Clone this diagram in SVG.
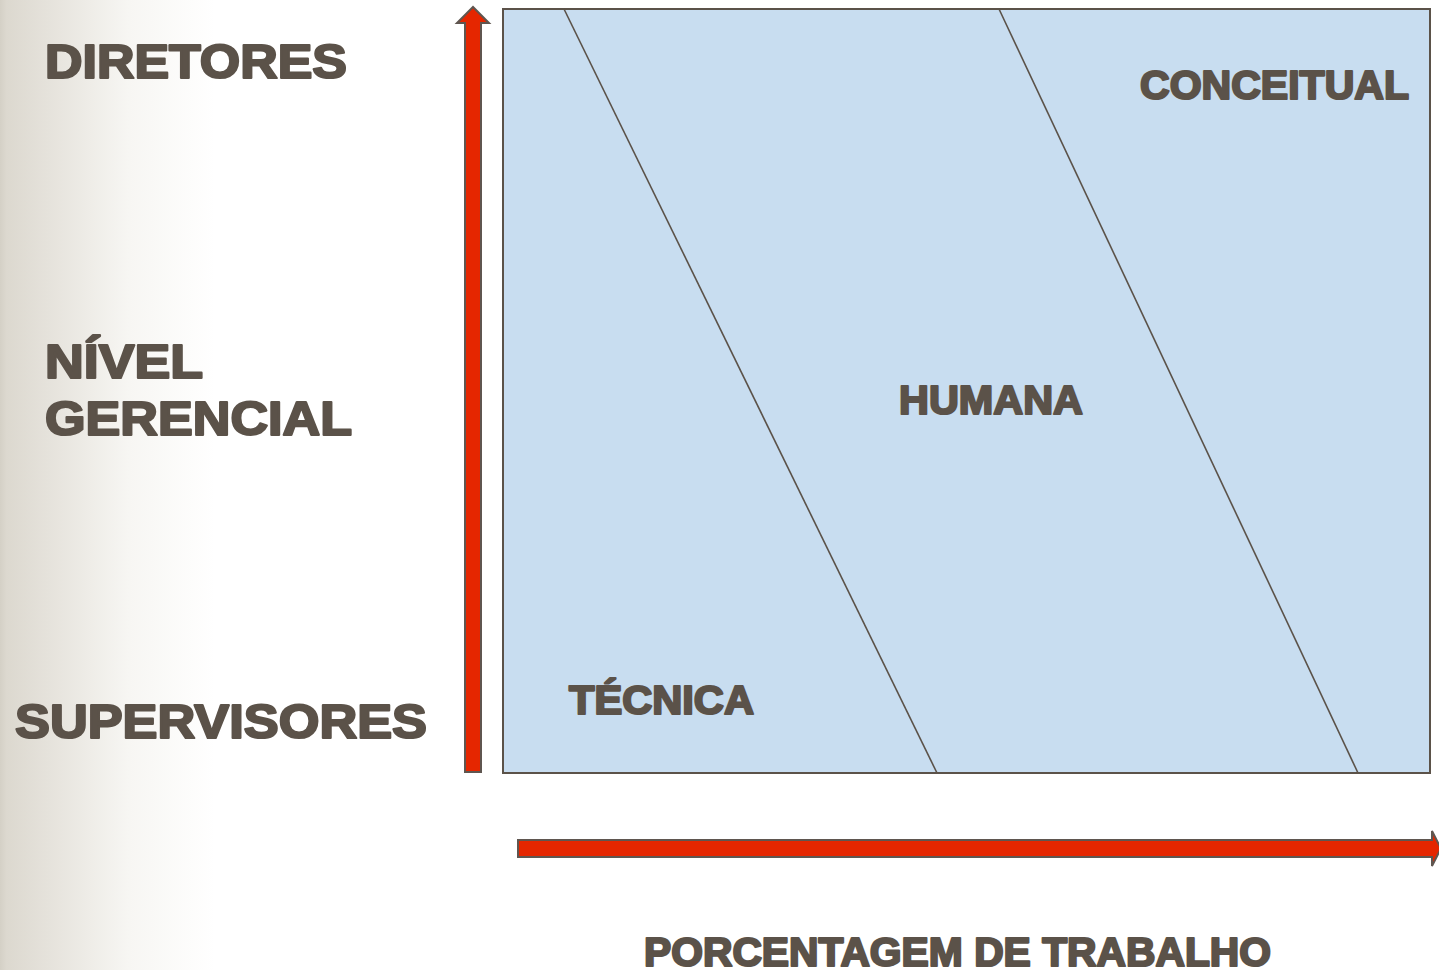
<svg xmlns="http://www.w3.org/2000/svg" width="1439" height="970" viewBox="0 0 1439 970">
<defs>
<linearGradient id="bg" x1="0" y1="0" x2="1" y2="0">
<stop offset="0" stop-color="#d4d0c6"/>
<stop offset="0.03" stop-color="#dcd8cf"/>
<stop offset="0.6" stop-color="#f7f6f3"/>
<stop offset="1" stop-color="#ffffff"/>
</linearGradient>
<style>
.lbl{font-family:"Liberation Sans",Arial,sans-serif;font-weight:bold;fill:#5b5249;stroke:#5b5249;stroke-width:2.2;stroke-linejoin:round}
.arrow{fill:#e52600;stroke:#5f5650;stroke-width:2}
.sep{stroke:#5b5249;stroke-width:1.6;fill:none}
</style>
</defs>
<rect x="0" y="0" width="1439" height="970" fill="#ffffff"/>
<rect x="0" y="0" width="215" height="970" fill="url(#bg)"/>
<g id="levels">
<text class="lbl" x="45" y="78" font-size="48" textLength="302" lengthAdjust="spacingAndGlyphs">DIRETORES</text>
<text class="lbl" x="45" y="378" font-size="48" textLength="158" lengthAdjust="spacingAndGlyphs">NÍVEL</text>
<text class="lbl" x="45" y="435" font-size="48" textLength="307" lengthAdjust="spacingAndGlyphs">GERENCIAL</text>
<text class="lbl" x="15" y="738" font-size="48" textLength="412" lengthAdjust="spacingAndGlyphs">SUPERVISORES</text>
</g>
<g id="chart">
<rect x="503" y="9" width="927" height="764" fill="#c8ddf0" stroke="#5b5249" stroke-width="2"/>
<line class="sep" x1="564" y1="9" x2="937" y2="773"/>
<line class="sep" x1="999" y1="9" x2="1358" y2="773"/>
</g>
<g id="conceitual"><text class="lbl" x="1140" y="99" font-size="40" textLength="269" lengthAdjust="spacingAndGlyphs">CONCEITUAL</text></g>
<g id="humana"><text class="lbl" x="899" y="414" font-size="40" textLength="184" lengthAdjust="spacingAndGlyphs">HUMANA</text></g>
<g id="tecnica"><text class="lbl" x="569" y="714" font-size="40" textLength="185" lengthAdjust="spacingAndGlyphs">TÉCNICA</text></g>
<g id="connectors">
<path class="arrow" d="M465,772 L465,23 L457,23 L473,7 L489,23 L481,23 L481,772 Z"/>
<path class="arrow" d="M518,840 L1432,840 L1432,831 L1441,848.5 L1432,866 L1432,857 L518,857 Z"/>
</g>
<g id="xlabel"><text class="lbl" x="644" y="966" font-size="40" textLength="627" lengthAdjust="spacingAndGlyphs">PORCENTAGEM DE TRABALHO</text></g>
</svg>
